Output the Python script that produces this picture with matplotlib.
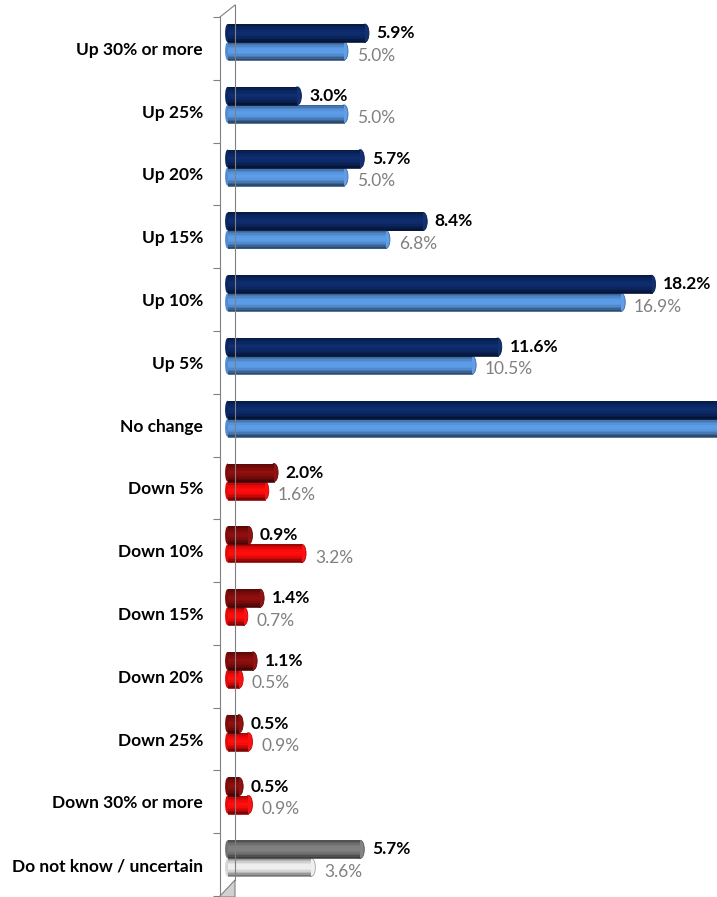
import numpy as np
import matplotlib
matplotlib.use("Agg")
import matplotlib.pyplot as plt
from matplotlib.patches import Ellipse, Polygon
from matplotlib.colors import to_rgb

plt.rcParams['font.family'] = ['Lato', 'DejaVu Sans']

categories = ["Up 30% or more", "Up 25%", "Up 20%", "Up 15%", "Up 10%", "Up 5%",
              "No change", "Down 5%", "Down 10%", "Down 15%", "Down 20%",
              "Down 25%", "Down 30% or more", "Do not know / uncertain"]
series_a = [5.9, 3.0, 5.7, 8.4, 18.2, 11.6, 34.9, 2.0, 0.9, 1.4, 1.1, 0.5, 0.5, 5.7]
series_b = [5.0, 5.0, 5.0, 6.8, 16.9, 10.5, 39.4, 1.6, 3.2, 0.7, 0.5, 0.9, 0.9, 3.6]
groups = ["up"] * 6 + ["up"] + ["down"] * 6 + ["unknown"]

# colours per group: (dark series, light series)
colors = {"up": ("#0c2a6c", "#5b9be6"),
          "down": ("#8c0c0c", "#ff0a0a"),
          "unknown": ("#7f7f7f", "#eeeeee")}

W, H, DPI = 717, 897, 100
fig = plt.figure(figsize=(W / DPI, H / DPI), dpi=DPI)
px_per = 23.3
ax_left, ax_top, ax_bottom = 220, 17, 896
ax = fig.add_axes([ax_left / W, (H - ax_bottom) / H, (W - ax_left) / W, (ax_bottom - ax_top) / H])
x0 = -7.5 / px_per
ax.set_xlim(x0, x0 + (W - ax_left) / px_per)
n = len(categories)
ax.set_ylim(n - 0.5, -0.5)

bar_h = 0.287
shift = -0.1
cap_w = 8 / px_per
# vertical shading profile of a cylinder (0 = top, 1 = bottom)
prof = np.linspace(0, 1, 12)
shade = 0.55 + 0.6 * np.sin(np.pi * (prof * 0.85 + 0.05)) - 0.25 * prof


def shaded(c, s):
    c = np.array(to_rgb(c))
    if s >= 1:
        return tuple(c + (1 - c) * min(s - 1, 1) * 0.6)
    return tuple(c * s)


def cylinder(y, v, col):
    top = y - bar_h / 2
    dh = bar_h / len(prof)
    for k in range(len(prof)):
        ax.barh(top + dh * (k + 0.5), v, height=dh * 1.05, left=0,
                color=shaded(col, shade[k]), linewidth=0, zorder=3)
    ax.add_patch(Ellipse((v, y), cap_w, bar_h, facecolor=shaded(col, 1.05),
                         edgecolor=shaded(col, 0.7), linewidth=0.6, zorder=2))
    ax.add_patch(Ellipse((0, y), cap_w * 0.6, bar_h, facecolor=shaded(col, 0.9),
                         linewidth=0, zorder=2))
    ax.plot([0, v], [y + bar_h / 2, y + bar_h / 2], color=shaded(col, 0.6), lw=0.6, zorder=4)


xmax = ax.get_xlim()[1]
for i in range(n):
    ca, cb = colors[groups[i]]
    ya = i + shift - bar_h / 2
    yb = i + shift + bar_h / 2
    cylinder(ya, series_a[i], ca)
    cylinder(yb, series_b[i], cb)
    if series_a[i] + 1 < xmax:
        ax.text(series_a[i] + 0.5, ya, "%.1f%%" % series_a[i], ha="left", va="center",
                fontsize=12.5, fontweight="bold", color="black", zorder=5)
    if series_b[i] + 1 < xmax:
        ax.text(series_b[i] + 0.55, yb + 0.07, "%.1f%%" % series_b[i], ha="left", va="center",
                fontsize=12.5, color="#808080", zorder=5)

ax.set_yticks(range(n))
ax.set_yticklabels(categories, fontsize=12.5, fontweight="bold")
ax.tick_params(axis="y", which="major", length=0, pad=12.2)
ax.set_yticks(np.arange(-0.5, n, 1), minor=True)
ax.tick_params(axis="y", which="minor", length=5, width=0.8, color="#808080", direction="out")
ax.set_xticks([])
for s in ["top", "right", "bottom"]:
    ax.spines[s].set_visible(False)
ax.spines["left"].set_color("#808080")
ax.spines["left"].set_linewidth(0.8)

# 3-D wall and floor
def fx(p):
    return p / W


def fy(p):
    return 1 - p / H


fig.lines.append(plt.Line2D([fx(235), fx(235)], [fy(5), fy(880)], color="#808080", lw=0.8,
                            transform=fig.transFigure, zorder=1))
fig.lines.append(plt.Line2D([fx(220), fx(235)], [fy(17), fy(5)], color="#808080", lw=0.8,
                            transform=fig.transFigure))
fig.patches.append(Polygon([[fx(220), fy(896)], [fx(235), fy(880)], [fx(235), fy(897)], [fx(220), fy(897)]],
                           closed=True, facecolor="#d0d0d0", edgecolor="#808080", lw=0.8,
                           transform=fig.transFigure, zorder=0))

fig.savefig("out.png", dpi=DPI)
